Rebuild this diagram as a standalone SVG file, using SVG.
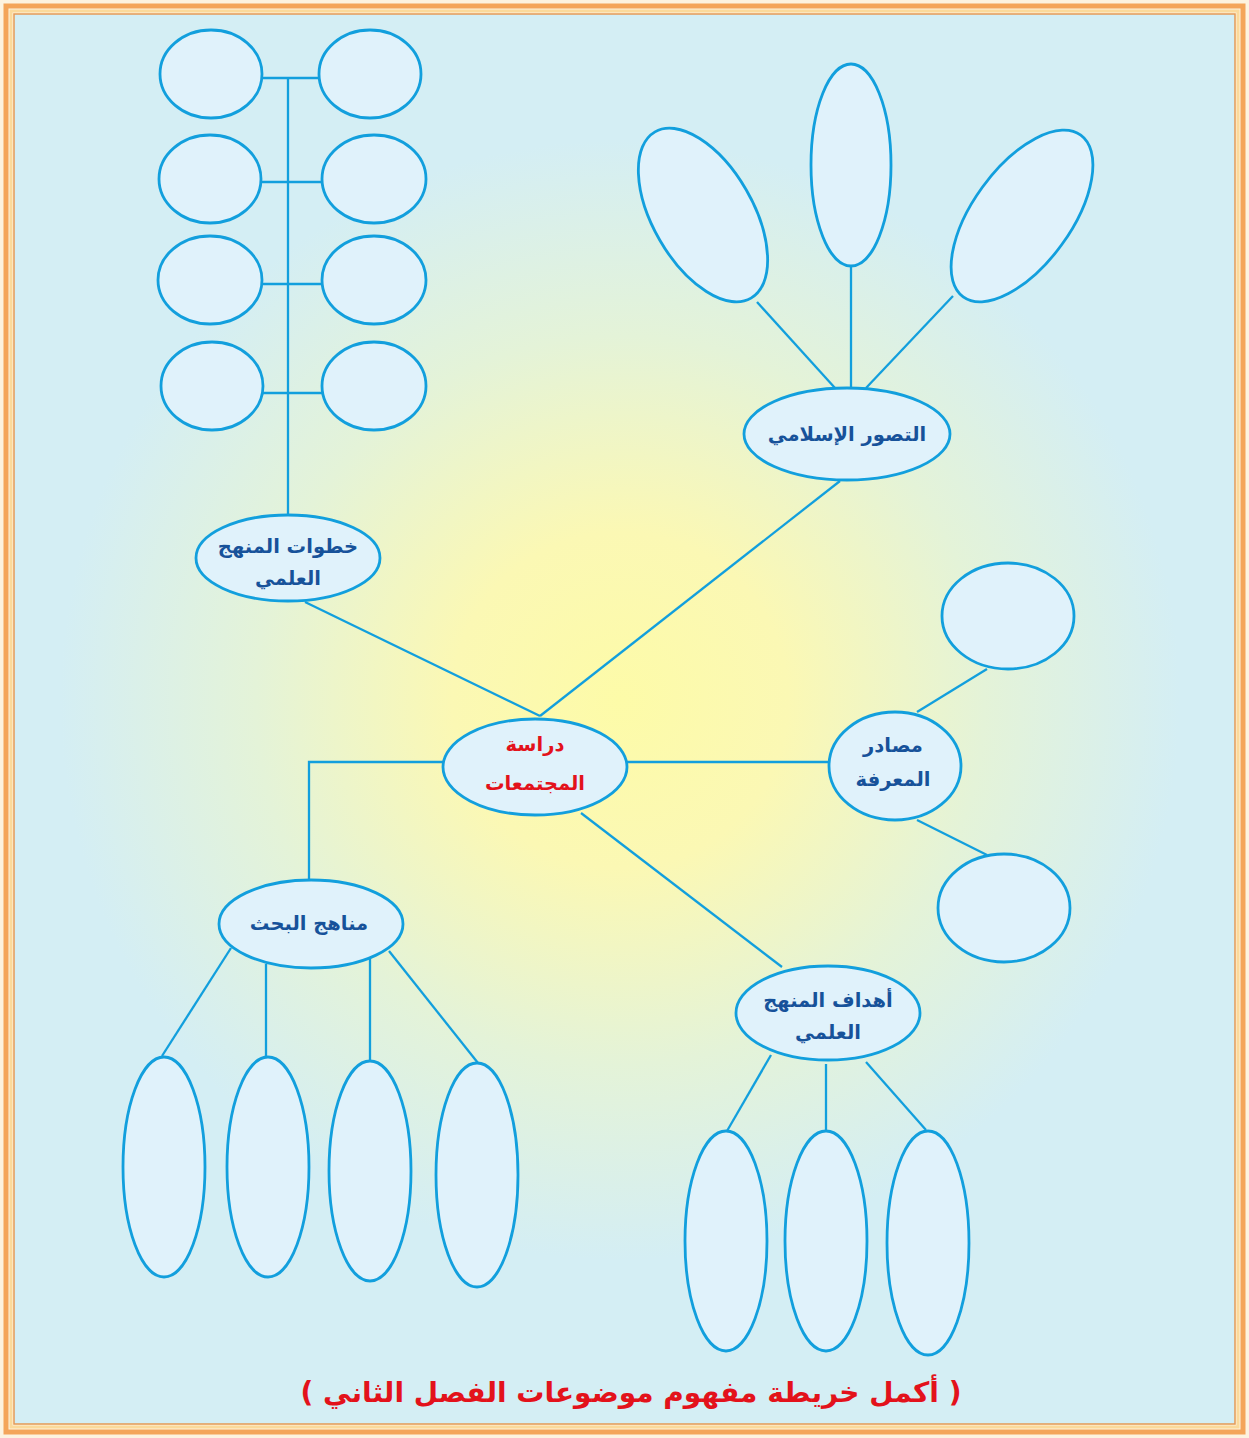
<svg xmlns="http://www.w3.org/2000/svg" width="1249" height="1438" viewBox="0 0 1249 1438">
<defs>
<radialGradient id="bg" cx="620" cy="700" r="560" gradientUnits="userSpaceOnUse">
<stop offset="0" stop-color="#fdfba8"/>
<stop offset="0.3" stop-color="#fbf8b4"/>
<stop offset="0.65" stop-color="#e4f3d8"/>
<stop offset="1" stop-color="#d4eef4"/>
</radialGradient>
<style>
.e{fill:#e0f2fb;stroke:#129fdd;stroke-width:2.8}
.c{stroke:#129fdd;stroke-width:2.3;fill:none}
.t{font-family:"DejaVu Sans",sans-serif;font-weight:bold;font-size:19.5px;fill:#17529a;text-anchor:middle;direction:rtl}
.r{fill:#e3121b}
</style>
</defs>
<rect x="0" y="0" width="1249" height="1438" fill="#fdf3e0"/>
<rect x="14" y="14" width="1221" height="1410" fill="url(#bg)"/>
<rect x="6" y="6" width="1237" height="1426" fill="none" stroke="#f4a55a" stroke-width="5"/>
<rect x="11" y="11" width="1227" height="1416" fill="none" stroke="#fbd99a" stroke-width="3"/>
<rect x="14" y="14" width="1221" height="1410" fill="none" stroke="#e59a55" stroke-width="1.5"/>

<g id="connectors">
<line class="c" x1="288" y1="78" x2="288" y2="514"/>
<line class="c" x1="262" y1="78" x2="320" y2="78"/>
<line class="c" x1="261" y1="182" x2="322" y2="182"/>
<line class="c" x1="262" y1="284" x2="322" y2="284"/>
<line class="c" x1="263" y1="393" x2="322" y2="393"/>
<line class="c" x1="305" y1="602" x2="540" y2="716"/>
<line class="c" x1="840" y1="481" x2="540" y2="716"/>
<line class="c" x1="757" y1="302" x2="835" y2="388"/>
<line class="c" x1="851" y1="266" x2="851" y2="388"/>
<line class="c" x1="953" y1="296" x2="866" y2="388"/>
<line class="c" x1="627" y1="762" x2="830" y2="762"/>
<line class="c" x1="917" y1="712" x2="987" y2="669"/>
<line class="c" x1="917" y1="820" x2="987" y2="855"/>
<polyline class="c" points="443,762 309,762 309,880"/>
<line class="c" x1="231" y1="948" x2="162" y2="1056"/>
<line class="c" x1="266" y1="964" x2="266" y2="1057"/>
<line class="c" x1="370" y1="957" x2="370" y2="1061"/>
<line class="c" x1="389" y1="951" x2="478" y2="1063"/>
<line class="c" x1="581" y1="813" x2="782" y2="967"/>
<line class="c" x1="771" y1="1055" x2="727" y2="1131"/>
<line class="c" x1="826" y1="1064" x2="826" y2="1131"/>
<line class="c" x1="866" y1="1062" x2="926" y2="1130"/>
</g>

<g id="steps-leaves">
<ellipse class="e" cx="211" cy="74" rx="51" ry="44"/>
<ellipse class="e" cx="370" cy="74" rx="51" ry="44"/>
<ellipse class="e" cx="210" cy="179" rx="51" ry="44"/>
<ellipse class="e" cx="374" cy="179" rx="52" ry="44"/>
<ellipse class="e" cx="210" cy="280" rx="52" ry="44"/>
<ellipse class="e" cx="374" cy="280" rx="52" ry="44"/>
<ellipse class="e" cx="212" cy="386" rx="51" ry="44"/>
<ellipse class="e" cx="374" cy="386" rx="52" ry="44"/>
</g>
<g id="steps">
<ellipse class="e" cx="288" cy="558" rx="92" ry="43"/>
<text class="t" x="288" y="553">خطوات المنهج</text>
<text class="t" x="288" y="585">العلمي</text>
</g>

<g id="islamic-leaves">
<ellipse class="e" cx="703" cy="215" rx="50" ry="96" transform="rotate(-30 703 215)"/>
<ellipse class="e" cx="851" cy="165" rx="40" ry="101"/>
<ellipse class="e" cx="1022" cy="216" rx="49" ry="100" transform="rotate(36 1022 216)"/>
</g>
<g id="islamic">
<ellipse class="e" cx="847" cy="434" rx="103" ry="46"/>
<text class="t" x="847" y="441">التصور الإسلامي</text>
</g>

<g id="center">
<ellipse class="e" cx="535" cy="767" rx="92" ry="48"/>
<text class="t r" x="535" y="751">دراسة</text>
<text class="t r" x="535" y="790">المجتمعات</text>
</g>

<g id="sources-leaves">
<ellipse class="e" cx="1008" cy="616" rx="66" ry="53"/>
<ellipse class="e" cx="1004" cy="908" rx="66" ry="54"/>
</g>
<g id="sources">
<ellipse class="e" cx="895" cy="766" rx="66" ry="54"/>
<text class="t" x="893" y="752">مصادر</text>
<text class="t" x="893" y="786">المعرفة</text>
</g>

<g id="methods-leaves">
<ellipse class="e" cx="164" cy="1167" rx="41" ry="110"/>
<ellipse class="e" cx="268" cy="1167" rx="41" ry="110"/>
<ellipse class="e" cx="370" cy="1171" rx="41" ry="110"/>
<ellipse class="e" cx="477" cy="1175" rx="41" ry="112"/>
</g>
<g id="methods">
<ellipse class="e" cx="311" cy="924" rx="92" ry="44"/>
<text class="t" x="309" y="930">مناهج البحث</text>
</g>

<g id="goals-leaves">
<ellipse class="e" cx="726" cy="1241" rx="41" ry="110"/>
<ellipse class="e" cx="826" cy="1241" rx="41" ry="110"/>
<ellipse class="e" cx="928" cy="1243" rx="41" ry="112"/>
</g>
<g id="goals">
<ellipse class="e" cx="828" cy="1013" rx="92" ry="47"/>
<text class="t" x="828" y="1007">أهداف المنهج</text>
<text class="t" x="828" y="1039">العلمي</text>
</g>

<text x="631" y="1402" style="font-family:'DejaVu Sans',sans-serif;font-weight:bold;font-size:28px;fill:#e3121b;text-anchor:middle;direction:rtl">( أكمل خريطة مفهوم موضوعات الفصل الثاني )</text>
</svg>
